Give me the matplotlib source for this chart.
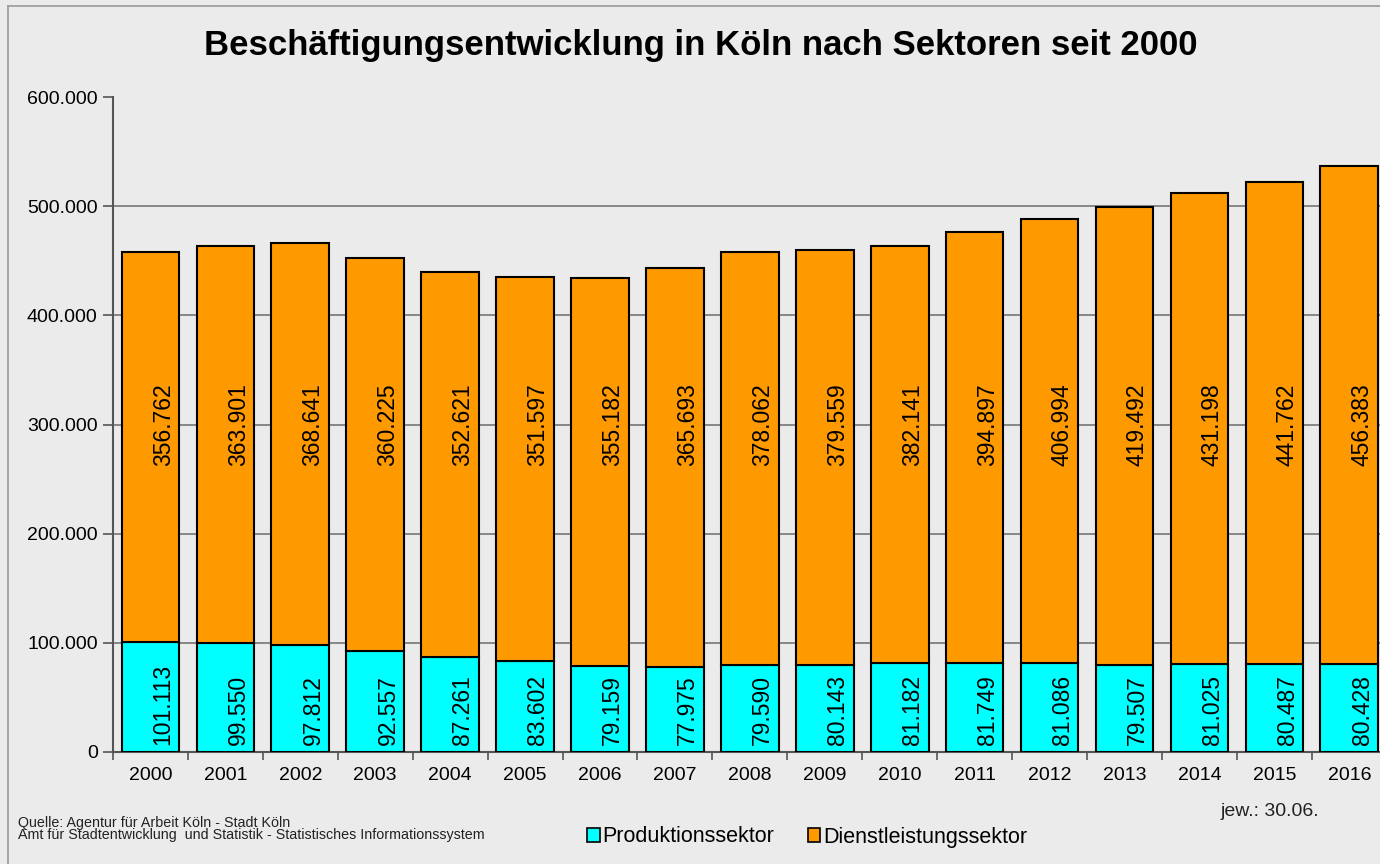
import matplotlib
matplotlib.use("Agg")

import matplotlib.pyplot as plt
from matplotlib.patches import Patch
from matplotlib.lines import Line2D
from matplotlib.ticker import FuncFormatter, FixedLocator

plt.rcParams["font.family"] = ["Liberation Sans", "DejaVu Sans"]

years = [str(y) for y in range(2000, 2017)]
produktion = [101113, 99550, 97812, 92557, 87261, 83602, 79159, 77975, 79590,
              80143, 81182, 81749, 81086, 79507, 81025, 80487, 80428]
dienstleistung = [356762, 363901, 368641, 360225, 352621, 351597, 355182, 365693,
                  378062, 379559, 382141, 394897, 406994, 419492, 431198, 441762, 456383]


def de_fmt(v):
    return f"{int(round(v)):,}".replace(",", ".")


bg = "#EBEBEB"
fig = plt.figure(figsize=(13.8, 8.64), dpi=100, facecolor=bg)
ax = fig.add_axes([113 / 1380, 1 - 752 / 864, 1 - 113 / 1380, (752 - 97) / 864])
ax.set_facecolor(bg)

x = list(range(len(years)))
ax.bar(x, produktion, width=0.77, color="#00FFFF", edgecolor="black", linewidth=1.5, zorder=3)
ax.bar(x, dienstleistung, width=0.77, bottom=produktion, color="#FF9900",
       edgecolor="black", linewidth=1.5, zorder=3)

for i in x:
    ax.text(i + 0.17, 6000, de_fmt(produktion[i]), rotation=90, ha="center", va="bottom",
            fontsize=16.5, color="black", zorder=4)
    ax.text(i + 0.17, 300000, de_fmt(dienstleistung[i]), rotation=90, ha="center",
            va="center", fontsize=16.5, color="black", zorder=4)

ax.set_xlim(-0.5, 16.41)
ax.set_ylim(0, 600000)
ax.yaxis.set_major_locator(FixedLocator(range(0, 600001, 100000)))
ax.yaxis.set_major_formatter(FuncFormatter(lambda v, p: de_fmt(v)))
ax.set_xticks(x)
ax.set_xticklabels(years)
ax.set_xticks([i + 0.5 for i in x[:-1]] + [-0.5], minor=True)
ax.tick_params(axis="x", which="major", length=0, labelsize=14, pad=11)
ax.tick_params(axis="x", which="minor", length=6, width=1.2, color="#555555")
ax.tick_params(axis="y", length=7, width=1.2, color="#555555", labelsize=14, pad=4)

for v in range(100000, 600000, 100000):
    ax.axhline(v, color="#7F7F7F", linewidth=1.3, zorder=1)

for s in ["top", "right"]:
    ax.spines[s].set_visible(False)
for s in ["left", "bottom"]:
    ax.spines[s].set_color("#555555")
    ax.spines[s].set_linewidth(1.5)

fig.text(701 / 1380, 1 - 45 / 864, "Beschäftigungsentwicklung in Köln nach Sektoren seit 2000",
         ha="center", va="center", fontsize=25, fontweight="bold")

fig.text(18 / 1380, 1 - 829 / 864,
         "Quelle: Agentur für Arbeit Köln - Stadt Köln\n"
         "Amt für Stadtentwicklung  und Statistik - Statistisches Informationssystem",
         ha="left", va="center", fontsize=10.3, color="#222222", linespacing=0.9)
fig.text(1270 / 1380, 1 - 812 / 864, "jew.: 30.06.", ha="center", va="center",
         fontsize=14, color="#222222")

handles = [Patch(facecolor="#00FFFF", edgecolor="black", linewidth=1.2),
           Patch(facecolor="#FF9900", edgecolor="black", linewidth=1.2)]
fig.legend(handles, ["Produktionssektor", "Dienstleistungssektor"],
           loc="center", bbox_to_anchor=(807 / 1380, 1 - 837 / 864), ncol=2,
           frameon=False, fontsize=15.5, handlelength=0.6, handleheight=0.6,
           handletextpad=0.12, columnspacing=1.55, borderaxespad=0, borderpad=0)

fig.add_artist(Line2D([8 / 1380, 8 / 1380], [0, 1 - 6 / 864], color="#999999", linewidth=1.2))
fig.add_artist(Line2D([8 / 1380, 1], [1 - 6 / 864, 1 - 6 / 864], color="#999999", linewidth=1.2))

fig.savefig("out.png", dpi=100, facecolor=bg)
